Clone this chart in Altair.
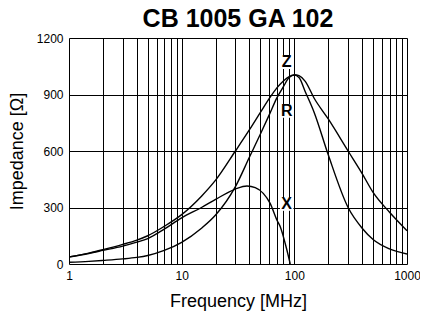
import altair as alt
import pandas as pd

# Frequency [MHz] sample points
freq = [1, 1.5, 2, 3, 4, 5, 7, 10, 15, 20, 30, 40, 50, 60, 70, 80, 90, 100, 110, 125, 150, 200, 300, 400, 500, 700, 1000]
z_vals = [38, 58, 76, 104, 127, 150, 200, 262, 360, 445, 600, 713, 805, 879, 935, 972, 995, 1005, 1000, 970, 880, 770, 600, 480, 380, 275, 177]
r_vals = [9, 14, 19, 27, 35, 45, 72, 115, 190, 260, 411, 568, 690, 793, 882, 942, 990, 1003, 990, 915, 805, 580, 300, 190, 130, 80, 53]

x_freq = [1, 1.5, 2, 3, 4, 5, 7, 10, 15, 20, 30, 38, 45, 53, 61, 70, 75, 85, 92]
x_vals = [37, 56, 72, 95, 116, 135, 185, 245, 300, 343, 398, 414, 405, 375, 322, 234, 198, 85, 0]

label_text = ["Z", "R", "X"]
label_freq = [85.5, 85.5, 85.5]
label_val = [1071, 812, 318]

x_grid = [1, 2, 3, 4, 5, 6, 7, 8, 9, 10, 20, 30, 40, 50, 60, 70, 80, 90,
          100, 200, 300, 400, 500, 600, 700, 800, 900, 1000]
y_ticks = [0, 300, 600, 900, 1200]

rows = []
for f, v in zip(freq, z_vals):
    rows.append({"f": f, "v": v, "s": "Z"})
for f, v in zip(freq, r_vals):
    rows.append({"f": f, "v": v, "s": "R"})
for f, v in zip(x_freq, x_vals):
    rows.append({"f": f, "v": v, "s": "X"})
df = pd.DataFrame(rows)
lab = pd.DataFrame({"f": label_freq, "v": label_val, "t": label_text})

FONT = "Liberation Sans"

xscale = alt.Scale(type="log", domain=[1, 1000])
yscale = alt.Scale(domain=[0, 1200])

lines = alt.Chart(df).mark_line(color="black", strokeWidth=1.4, interpolate="monotone", clip=True).encode(
    x=alt.X("f:Q", scale=xscale,
            axis=alt.Axis(values=x_grid, title="Frequency [MHz]",
                          labelExpr="indexof([1,10,100,1000], datum.value) >= 0 ? datum.value : ''",
                          labelFlush=False, labelOverlap=False,
                          grid=True, gridColor="black", gridOpacity=1, gridWidth=1,
                          ticks=False, tickSize=0, domain=False, labelPadding=6,
                          labelFontSize=12, labelFont=FONT, labelColor="black",
                          titleFontSize=18, titleFont=FONT, titleFontWeight="normal", titleColor="black",
                          titleX=169, titleY=28, titleBaseline="top", titleAnchor="middle")),
    y=alt.Y("v:Q", scale=yscale,
            axis=alt.Axis(values=y_ticks, title="Impedance [Ω]", format="d",
                          labelFlush=False, labelOverlap=False,
                          grid=True, gridColor="black", gridOpacity=1, gridWidth=1,
                          ticks=False, tickSize=0, domain=False, labelPadding=6,
                          labelFontSize=12, labelFont=FONT, labelColor="black",
                          titleFontSize=18, titleFont=FONT, titleFontWeight="normal", titleColor="black",
                          titleX=-52, titleY=113, titleBaseline="middle", titleAngle=270)),
    detail="s:N",
)

boxes = alt.Chart(lab).mark_square(color="white", opacity=1, size=180).encode(
    x=alt.X("f:Q", scale=xscale), y=alt.Y("v:Q", scale=yscale)
)
texts = alt.Chart(lab).mark_text(font=FONT, fontWeight="bold", fontSize=16, color="black",
                                 baseline="middle", align="center").encode(
    x=alt.X("f:Q", scale=xscale), y=alt.Y("v:Q", scale=yscale), text="t:N"
)

chart = alt.layer(lines, boxes, texts).properties(
    width=338, height=226,
    title=alt.TitleParams("CB 1005 GA 102", font=FONT, fontSize=25, fontWeight="bold",
                          color="black", anchor="middle", offset=0),
    autosize=alt.AutoSizeParams(type="none"),
    padding={"left": 61, "top": 30, "right": 13, "bottom": 47},
).configure_view(stroke="black", strokeWidth=1).configure(background="white")

chart.save("out.html", embed_options={"renderer": "svg", "actions": False})
